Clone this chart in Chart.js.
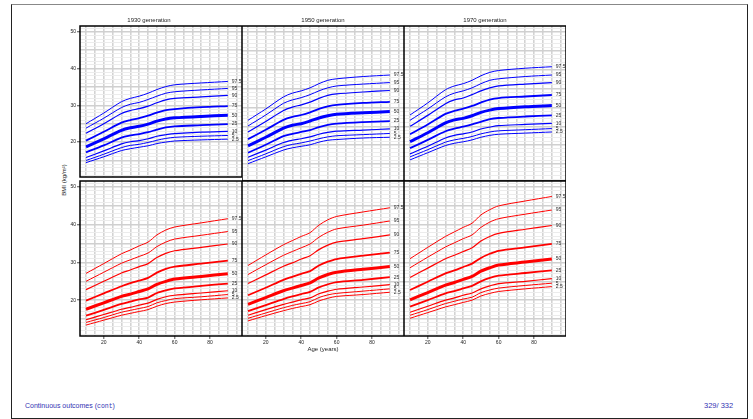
<!DOCTYPE html>
<html><head><meta charset="utf-8">
<script src="https://cdn.jsdelivr.net/npm/chart.js@4.4.1/dist/chart.umd.min.js"></script>
<style>
html,body{margin:0;padding:0;background:#fff;width:753px;height:419px;overflow:hidden;position:relative;}
#frame{position:absolute;left:11px;top:4px;width:737px;height:415px;border:1px solid #222;border-top-color:#888;box-sizing:border-box;}
canvas{position:absolute;}
.txt{position:absolute;font-family:"Liberation Sans",Arial,sans-serif;white-space:nowrap;}
</style></head><body>
<div id="frame"></div>
<div class="txt" style="left:64px;top:180px;font-size:6px;color:#222;transform:translate(-50%,-50%) rotate(-90deg);">BMI (kg/m²)</div>
<div class="txt" style="left:25px;top:402px;font-size:7px;color:#3333b3;">Continuous outcomes (<span style="font-family:'Liberation Mono','DejaVu Sans Mono',monospace;font-size:6.5px;">cont</span>)</div>
<div class="txt" style="left:704px;top:401px;font-size:7.5px;color:#3333b3;">329/ 332</div>
<div id="wrap"></div>
<script>
const ages = [10, 20, 30, 35, 40, 45, 50, 55, 60, 75, 90];
const centiles = ['97.5', '95', '90', '75', '50', '25', '10', '5', '2.5'];
const generations = ['1930 generation', '1950 generation', '1970 generation'];
const xTickLabels = [20, 40, 60, 80];
const yTickLabels = [20, 30, 40, 50];
const xGridTicks = [10, 15, 20, 25, 30, 35, 40, 45, 50, 55, 60, 65, 70, 75, 80, 85, 90, 95];
const yGridTicks = [11,12,13,14,15,16,17,18,19,20,21,22,23,24,25,26,27,28,29,30,31,32,33,34,35,36,37,38,39,40,41,42,43,44,45,46,47,48,49,50,51];

// Top row (blue), rows ordered as centiles
const blue1930 = [
 [25.0, 27.9, 31.0, 31.9, 32.5, 33.3, 34.3, 35.1, 35.6, 36.1, 36.5],
 [23.8, 26.5, 29.4, 30.3, 30.8, 31.6, 32.5, 33.3, 33.7, 34.2, 34.6],
 [22.4, 25.0, 27.8, 28.6, 29.1, 29.8, 30.7, 31.5, 31.9, 32.3, 32.7],
 [20.4, 22.8, 25.3, 26.0, 26.5, 27.2, 28.0, 28.7, 29.0, 29.5, 29.8],
 [18.7, 20.9, 23.2, 23.9, 24.3, 24.9, 25.7, 26.3, 26.6, 27.0, 27.3],
 [17.2, 19.1, 21.2, 21.8, 22.2, 22.7, 23.4, 24.0, 24.3, 24.6, 24.9],
 [15.8, 17.6, 19.5, 20.1, 20.4, 20.9, 21.6, 22.0, 22.3, 22.7, 22.9],
 [15.0, 16.7, 18.5, 19.1, 19.4, 19.9, 20.5, 21.0, 21.3, 21.6, 21.8],
 [14.4, 16.0, 17.7, 18.2, 18.6, 19.0, 19.6, 20.0, 20.3, 20.6, 20.8]
];
const blue1950 = [
 [26.6, 29.6, 32.8, 33.8, 34.4, 35.2, 36.3, 37.2, 37.6, 38.2, 38.6],
 [25.1, 28.0, 31.1, 32.0, 32.6, 33.4, 34.4, 35.2, 35.7, 36.2, 36.6],
 [23.5, 26.3, 29.2, 30.1, 30.7, 31.4, 32.4, 33.2, 33.6, 34.1, 34.5],
 [21.6, 24.1, 26.7, 27.5, 28.0, 28.7, 29.6, 30.3, 30.7, 31.2, 31.5],
 [19.8, 22.1, 24.5, 25.3, 25.7, 26.4, 27.2, 27.8, 28.2, 28.6, 28.9],
 [18.0, 20.1, 22.4, 23.0, 23.5, 24.0, 24.8, 25.4, 25.7, 26.1, 26.4],
 [16.8, 18.7, 20.7, 21.3, 21.7, 22.2, 22.9, 23.4, 23.7, 24.0, 24.3],
 [15.9, 17.7, 19.6, 20.2, 20.6, 21.1, 21.7, 22.2, 22.5, 22.8, 23.1],
 [15.1, 16.9, 18.7, 19.3, 19.7, 20.1, 20.8, 21.3, 21.5, 21.9, 22.1]
];
const blue1970 = [
 [28.0, 31.2, 34.7, 35.7, 36.3, 37.2, 38.4, 39.3, 39.8, 40.4, 40.8],
 [26.6, 29.6, 32.8, 33.8, 34.4, 35.2, 36.3, 37.2, 37.6, 38.2, 38.6],
 [25.0, 27.9, 31.0, 32.0, 32.5, 33.4, 34.4, 35.2, 35.7, 36.2, 36.6],
 [22.9, 25.5, 28.3, 29.1, 29.7, 30.4, 31.3, 32.1, 32.5, 32.9, 33.3],
 [20.9, 23.3, 25.9, 26.7, 27.1, 27.8, 28.7, 29.3, 29.7, 30.2, 30.5],
 [19.2, 21.4, 23.7, 24.4, 24.9, 25.5, 26.2, 26.9, 27.2, 27.6, 27.9],
 [17.7, 19.7, 21.9, 22.6, 23.0, 23.5, 24.3, 24.8, 25.2, 25.5, 25.8],
 [16.9, 18.8, 20.8, 21.4, 21.8, 22.3, 23.0, 23.5, 23.8, 24.1, 24.4],
 [16.1, 18.0, 19.9, 20.5, 20.9, 21.4, 22.1, 22.6, 22.9, 23.2, 23.5]
];
// Bottom row (red)
const red1930 = [
 [27.1, 29.7, 32.3, 33.3, 34.4, 35.4, 37.3, 38.6, 39.4, 40.5, 41.6],
 [25.0, 27.4, 29.8, 30.7, 31.6, 32.5, 34.2, 35.4, 36.2, 37.2, 38.2],
 [22.8, 25.0, 27.2, 28.0, 28.9, 29.7, 31.3, 32.4, 33.1, 34.0, 34.9],
 [19.9, 21.8, 23.7, 24.5, 25.2, 25.9, 27.3, 28.3, 28.9, 29.7, 30.5],
 [17.6, 19.3, 21.0, 21.6, 22.3, 23.0, 24.2, 25.0, 25.6, 26.3, 27.0],
 [15.9, 17.4, 19.0, 19.6, 20.2, 20.7, 21.9, 22.6, 23.1, 23.8, 24.4],
 [14.8, 16.2, 17.6, 18.1, 18.7, 19.2, 20.2, 20.9, 21.3, 21.9, 22.5],
 [14.1, 15.4, 16.8, 17.3, 17.8, 18.3, 19.3, 19.9, 20.4, 20.9, 21.5],
 [13.4, 14.7, 16.0, 16.5, 17.0, 17.5, 18.4, 19.1, 19.5, 20.1, 20.6]
];
const red1950 = [
 [29.2, 32.0, 34.7, 35.8, 36.9, 37.9, 39.9, 41.3, 42.2, 43.4, 44.5],
 [26.8, 29.4, 31.9, 32.9, 33.9, 34.9, 36.7, 38.0, 38.9, 39.9, 41.0],
 [24.4, 26.7, 29.0, 29.9, 30.9, 31.8, 33.4, 34.6, 35.4, 36.3, 37.3],
 [21.3, 23.3, 25.4, 26.2, 27.0, 27.7, 29.2, 30.2, 30.9, 31.8, 32.6],
 [18.9, 20.7, 22.5, 23.2, 23.9, 24.6, 25.9, 26.8, 27.4, 28.2, 28.9],
 [17.1, 18.7, 20.3, 21.0, 21.6, 22.2, 23.4, 24.2, 24.8, 25.4, 26.1],
 [16.0, 17.5, 18.9, 19.5, 20.1, 20.6, 21.7, 22.4, 22.9, 23.5, 24.1],
 [15.2, 16.6, 18.0, 18.6, 19.1, 19.6, 20.7, 21.4, 21.8, 22.4, 23.0],
 [14.5, 15.9, 17.2, 17.8, 18.3, 18.8, 19.8, 20.5, 21.0, 21.5, 22.1]
];
const red1970 = [
 [31.0, 34.0, 36.9, 38.1, 39.3, 40.4, 42.6, 44.0, 45.0, 46.3, 47.5],
 [28.6, 31.4, 34.1, 35.2, 36.3, 37.3, 39.3, 40.7, 41.6, 42.8, 43.9],
 [26.0, 28.5, 31.0, 31.9, 32.9, 33.9, 35.7, 36.9, 37.7, 38.8, 39.8],
 [22.7, 24.9, 27.1, 27.9, 28.8, 29.7, 31.2, 32.3, 33.1, 34.0, 34.9],
 [20.1, 22.0, 24.0, 24.7, 25.5, 26.3, 27.7, 28.6, 29.3, 30.1, 30.9],
 [18.3, 20.0, 21.8, 22.4, 23.1, 23.8, 25.0, 25.9, 26.5, 27.2, 27.9],
 [16.8, 18.4, 20.0, 20.6, 21.3, 21.9, 23.0, 23.8, 24.4, 25.0, 25.7],
 [16.0, 17.5, 19.1, 19.7, 20.3, 20.8, 22.0, 22.7, 23.2, 23.9, 24.5],
 [15.2, 16.7, 18.2, 18.8, 19.4, 20.0, 21.1, 21.8, 22.3, 23.0, 23.6]
];

const FONT = '"Liberation Sans", Arial, sans-serif';
const lineWidths = [1, 1, 1.2, 1.8, 3, 1.8, 1.2, 1, 1];
const PL = [80, 242, 404], PT = [26, 181], PW = 162, PH = 155;
const YW = 24, TH = 12, XH = 17;

const panelDecor = {
  id: 'panelDecor',
  afterDatasetsDraw(chart) {
    const ctx = chart.ctx;
    ctx.save();
    ctx.font = '5px ' + FONT;
    ctx.fillStyle = '#333';
    ctx.textAlign = 'left';
    ctx.textBaseline = 'middle';
    chart.data.datasets.forEach((ds, i) => {
      const meta = chart.getDatasetMeta(i);
      const last = meta.data[meta.data.length - 1];
      ctx.fillText(ds.label, last.x + 4, last.y);
    });
    const a = chart.chartArea;
    ctx.strokeStyle = '#000';
    ctx.lineWidth = 1.5;
    ctx.strokeRect(a.left, a.top, a.right - a.left, a.bottom - a.top);
    ctx.restore();
  }
};

function makePanel(row, col, data, color) {
  const isLeft = col === 0, isBottom = row === 1;
  const yw = isLeft ? YW : 0, xh = isBottom ? XH : 0;
  const cv = document.createElement('canvas');
  cv.width = yw + PW; cv.height = TH + PH + xh;
  cv.style.left = (PL[col] - yw) + 'px';
  cv.style.top = (PT[row] - TH) + 'px';
  cv.style.width = cv.width + 'px'; cv.style.height = cv.height + 'px';
  document.getElementById('wrap').appendChild(cv);
  new Chart(cv, {
    type: 'line',
    data: {
      datasets: data.map((vals, i) => ({
        label: centiles[i],
        data: ages.map((a, j) => ({ x: a, y: vals[j] })),
        borderColor: color, borderWidth: lineWidths[i],
        pointRadius: 0, tension: 0.3, fill: false
      }))
    },
    options: {
      responsive: false, animation: false, devicePixelRatio: 1,
      layout: { padding: { top: row === 0 ? 0 : TH, left: 0, right: 0, bottom: 0 } },
      plugins: {
        legend: { display: false }, tooltip: { enabled: false },
        title: { display: row === 0, text: generations[col], color: '#222',
                 font: { family: FONT, size: 6, lineHeight: 1.5, weight: 'normal' },
                 padding: { top: 2, bottom: 1 } }
      },
      scales: {
        x: {
          type: 'linear', min: 6.6, max: 98,
          afterBuildTicks: ax => { ax.ticks = xGridTicks.map(v => ({ value: v })); },
          afterFit: ax => { ax.height = xh; },
          ticks: { display: isBottom, autoSkip: false, maxRotation: 0, padding: 1,
                   font: { family: FONT, size: 5 }, color: '#222',
                   callback: v => xTickLabels.includes(v) ? String(v) : '' },
          grid: { color: '#d3d3d3', lineWidth: 1.6, drawTicks: isBottom, tickLength: 3,
                  tickWidth: 0.8,
                  tickColor: c => (c.tick && xTickLabels.includes(c.tick.value)) ? '#222' : 'rgba(0,0,0,0)' },
          border: { display: false },
          title: { display: isBottom && col === 1, text: 'Age (years)', color: '#222',
                   font: { family: FONT, size: 6 }, padding: 0 }
        },
        y: {
          type: 'linear', min: 10.5, max: 51.6,
          afterBuildTicks: ax => { ax.ticks = yGridTicks.map(v => ({ value: v })); },
          afterFit: ax => { ax.width = yw; },
          ticks: { display: isLeft, autoSkip: false, padding: 1,
                   font: { family: FONT, size: 5 }, color: '#222',
                   callback: v => yTickLabels.includes(v) ? String(v) : '' },
          grid: { color: c => (c.tick && c.tick.value % 5 === 0) ? '#d0d0d0' : '#ececec',
                  lineWidth: c => (c.tick && c.tick.value % 5 === 0) ? 1.5 : 1,
                  drawTicks: isLeft, tickLength: 3, tickWidth: 0.8,
                  tickColor: c => (c.tick && yTickLabels.includes(c.tick.value)) ? '#222' : 'rgba(0,0,0,0)' },
          border: { display: false }
        }
      }
    },
    plugins: [panelDecor]
  });
}

makePanel(0, 0, blue1930, '#0000ff');
makePanel(0, 1, blue1950, '#0000ff');
makePanel(0, 2, blue1970, '#0000ff');
makePanel(1, 0, red1930, '#ff0000');
makePanel(1, 1, red1950, '#ff0000');
makePanel(1, 2, red1970, '#ff0000');
</script>
</body></html>
